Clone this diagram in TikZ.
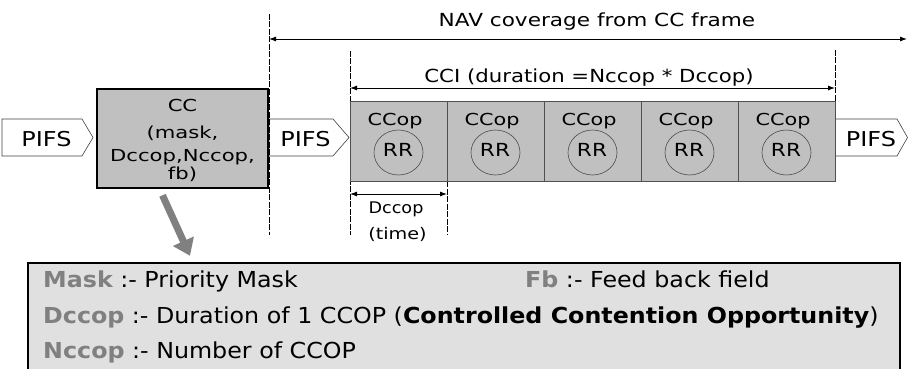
\documentclass[tikz,border=0pt]{standalone}
\usepackage{fontspec}
\setmainfont{DejaVu Sans}
\usetikzlibrary{arrows.meta,shapes.geometric}
\definecolor{boxgray}{RGB}{192,192,192}
\definecolor{legendgray}{RGB}{224,224,224}
\definecolor{keygray}{RGB}{128,128,128}
\definecolor{cellline}{RGB}{80,80,80}
\tikzset{
  fs/.style 2 args={font=\fontsize{#1}{#1}\selectfont\addfontfeature{FakeStretch=#2}},
  txt/.style={inner sep=0pt, anchor=base},
  pifsbox/.style={draw=black!75, line width=0.6pt, fill=white},
  pifstext/.style={txt, fs={20.5}{1.17}},
  ccbox/.style={draw=black, line width=2.6pt, fill=boxgray, minimum width=171pt, minimum height=99pt, inner sep=0pt},
  cctext/.style={txt, fs={16.5}{1.28}},
  cell/.style={draw=cellline, line width=0.8pt, fill=boxgray, minimum width=97pt, minimum height=80pt, inner sep=0pt},
  celltext/.style={txt, fs={16.5}{1.26}},
  rr/.style={draw=black!70, line width=0.6pt, ellipse, minimum width=49pt, minimum height=45pt, inner sep=0pt},
  rrtext/.style={txt, fs={18}{1.2}},
  marker/.style={line width=0.7pt, dash pattern=on 6pt off 1.5pt},
  dim/.style={line width=0.9pt, {Latex[length=7pt,width=5pt]}-{Latex[length=7pt,width=5pt]}},
  legend/.style={draw=black, line width=2.4pt, fill=legendgray, minimum width=872pt, minimum height=120pt, inner sep=0pt},
  legtext/.style={inner sep=0pt, anchor=base west, fs={22}{1.08}},
  pointer/.style={draw=keygray, line width=7pt, -{Triangle[length=16pt,width=22pt]}, color=keygray},
}
\begin{document}
\begin{tikzpicture}[x=1pt,y=-1pt]
\useasboundingbox (0,0) rectangle (908,369);
\clip (0,0) rectangle (908,369);

% interframe spaces
\draw[pifsbox] (2,119) -- (82,119) -- (93,137.5) -- (82,156) -- (2,156) -- cycle;
\node[pifstext] (pifsA) at (46.5,146.5) {PIFS};
\draw[pifsbox] (269,119) -- (333,119) -- (349,137.5) -- (333,156) -- (269,156) -- cycle;
\node[pifstext] (pifsB) at (305.5,146.5) {PIFS};
\draw[pifsbox] (835,119) -- (897,119) -- (907.5,137.5) -- (897,156) -- (835,156) -- cycle;
\node[pifstext] (pifsC) at (871,146.5) {PIFS};

% CC frame and its fields
\node[ccbox] (cc) at (182.5,138.5) {};
\node[cctext] (ccA) at (182.5,111) {CC};
\node[cctext] (ccB) at (182.5,139) {(mask,};
\node[cctext] (ccC) at (182.5,161) {Dccop,Nccop,};
\node[cctext] (ccD) at (182.5,179.5) {fb)};

% boundary markers
\coordinate (navL) at (269,14);
\coordinate (navLb) at (269,235);
\coordinate (cciL) at (350,51);
\coordinate (cciLb) at (350,235);
\coordinate (cciR) at (835,50);
\coordinate (cciRb) at (835,105);
\coordinate (dcR) at (447,181);
\coordinate (dcRb) at (447,235);
\draw[marker] (navL) -- (navLb);
\draw[marker] (cciL) -- (cciLb);
\draw[marker] (cciR) -- (cciRb);
\draw[marker] (dcR) -- (dcRb);

% NAV coverage
\coordinate (navA) at (269,39);
\coordinate (navB) at (907,39);
\draw[dim] (navA) -- (navB);
\node[txt, fs={18}{1.2}] (navlabel) at (597,26.5) {NAV coverage from CC frame};

% CCI
\coordinate (cciA) at (350,88);
\coordinate (cciB) at (835,88);
\draw[dim] (cciA) -- (cciB);
\node[txt, fs={18}{1.18}] (ccilabel) at (589,83) {CCI (duration =Nccop * Dccop)};

% controlled contention opportunities
\foreach \i in {0,...,4} {
  \node[cell] (cell\i) at (398.5+97*\i,141) {};
  \node[celltext] (ccop\i) at (395+97*\i,125) {CCop};
  \node[rr] (rr\i) at (398.5+97*\i,152.5) {};
  \node[rrtext] (rrt\i) at (398+97*\i,156) {RR};
}

% one CCOP duration
\coordinate (dcA) at (350,194);
\coordinate (dcB) at (447,194);
\draw[dim] (dcA) -- (dcB);
\node[txt, fs={16}{1.1}] (dclabel) at (396,213) {Dccop};
\node[txt, fs={16}{1.2}] (timelabel) at (397.5,239) {(time)};

% field legend
\node[legend] (legendbox) at (464,323) {};
\node[legtext] (lineA) at (43,287) {\textcolor{keygray}{\bfseries Mask} :- Priority Mask};
\node[legtext] (lineB) at (525,287) {\textcolor{keygray}{\bfseries Fb} :- Feed back field};
\node[legtext] (lineC) at (43,323) {\textcolor{keygray}{\bfseries Dccop} :- Duration of 1 CCOP (\textbf{Controlled Contention Opportunity})};
\node[legtext] (lineD) at (43,358) {\textcolor{keygray}{\bfseries Nccop} :- Number of CCOP};

\draw[pointer] ([xshift=-20pt,yshift=-6pt]cc.south) -- ([xshift=-274pt,yshift=6pt]legendbox.north);
\end{tikzpicture}
\end{document}
